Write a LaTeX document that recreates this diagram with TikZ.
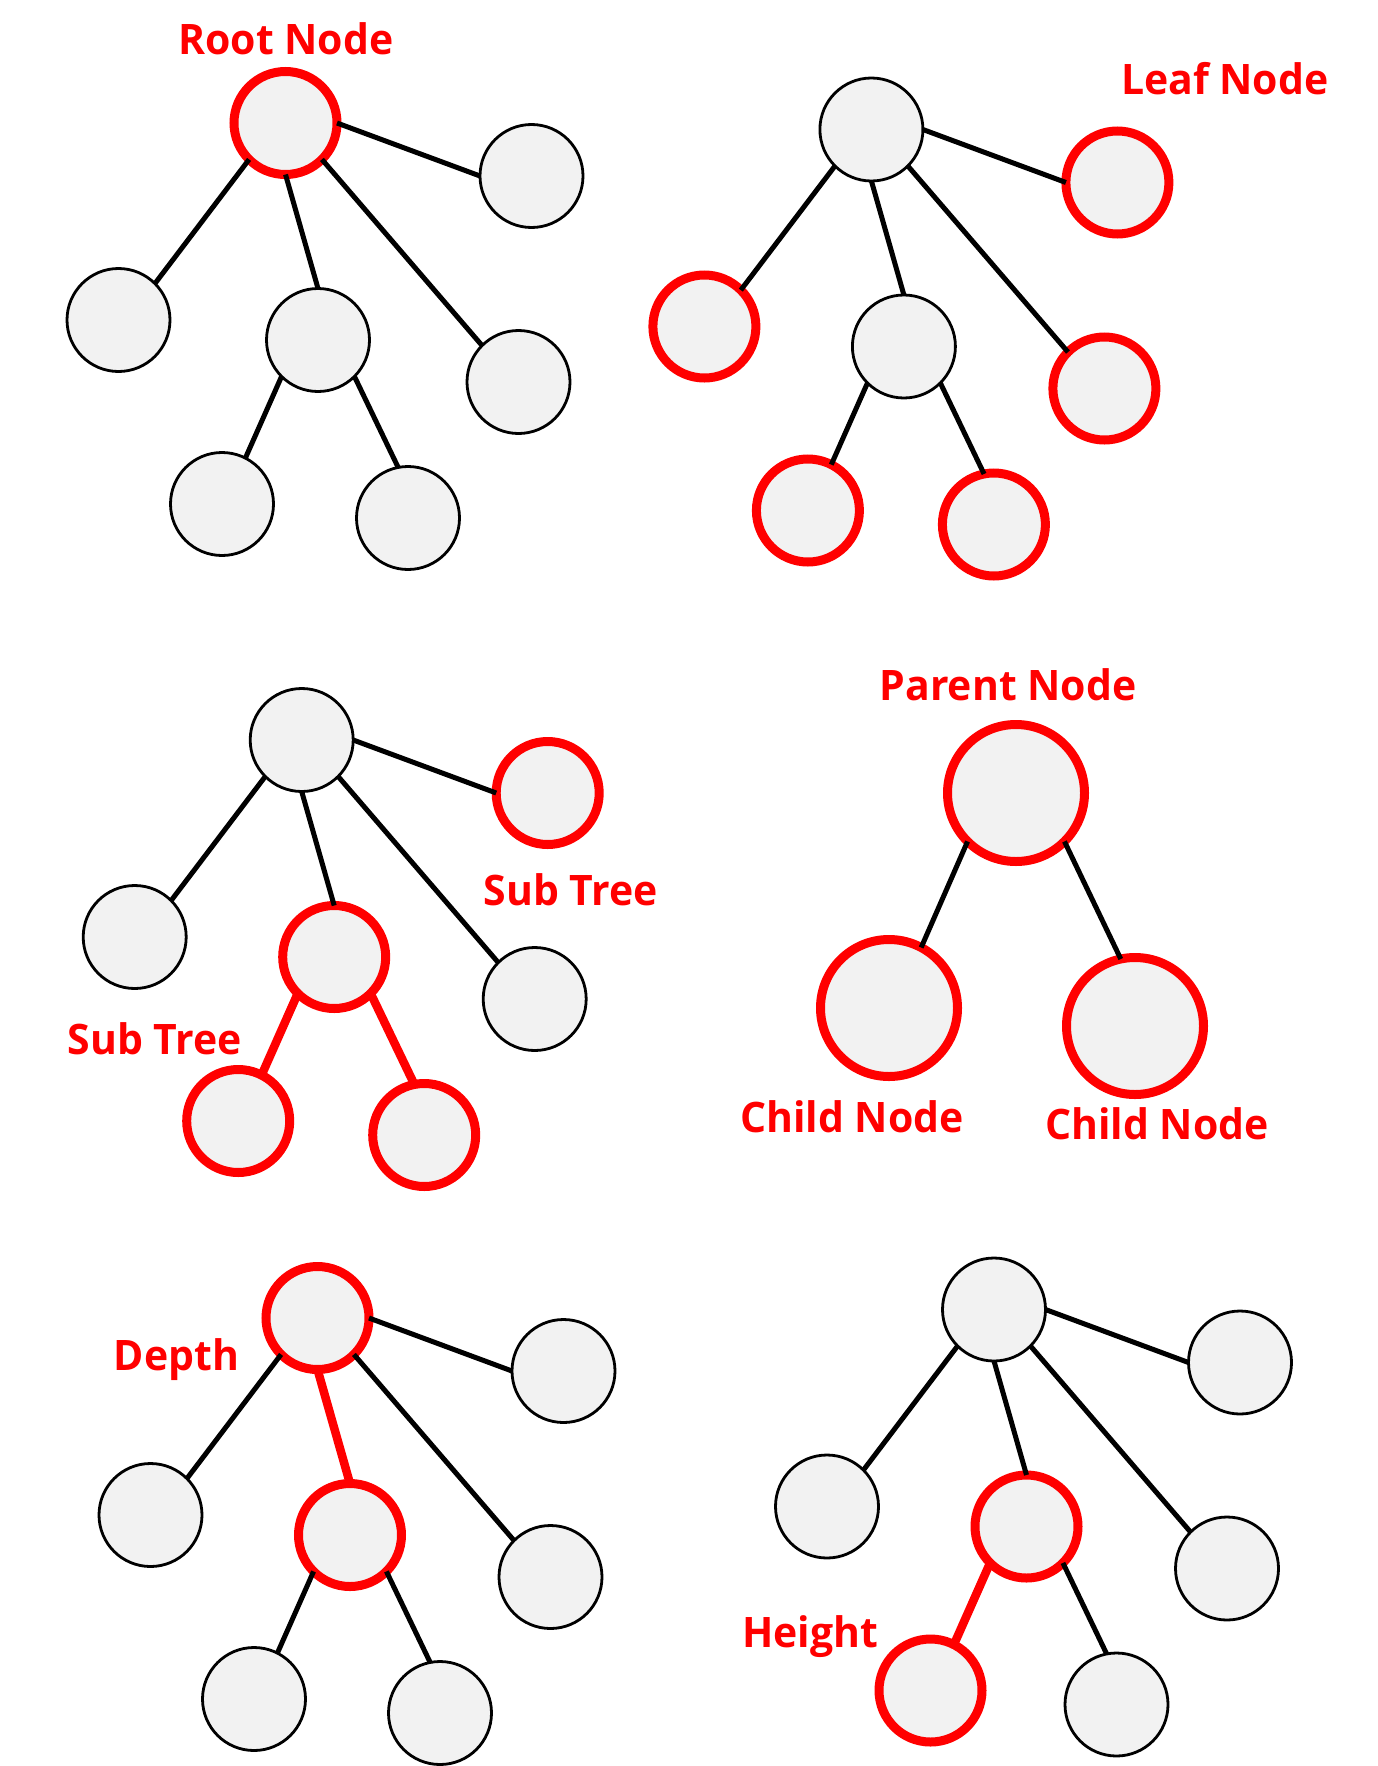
\documentclass[tikz,border=0pt]{standalone}
\usepackage{fontspec}
\setmainfont{Open Sans}[FakeStretch=0.975]
\definecolor{nodegray}{HTML}{F2F2F2}
\definecolor{hired}{HTML}{FF0000}
\tikzset{
  tn/.style={circle, draw=black, line width=2.8pt, fill=nodegray, minimum size=103pt, inner sep=0pt, outer sep=0pt},
  rn/.style={tn, draw=hired, line width=9pt},
  bignode/.style={minimum size=137pt},
  edgeline/.style={line width=5pt, draw=black},
  redgeline/.style={line width=8.5pt, draw=hired},
  lbl/.style={text=hired, font=\fontsize{42}{42}\selectfont\bfseries, anchor=base, inner sep=0pt}
}
\begin{document}
\begin{tikzpicture}[x=1pt,y=-1pt]
\fill[white] (0,0) rectangle (1378,1766);
\useasboundingbox (0,0) rectangle (1378,1766);

% Tree 1: Root Node
\begin{scope}[shift={(285.5,123)}]
  \node[rn] (a0) at (0,0) {};
  \node[tn] (a1) at (246,53) {};
  \node[tn] (a2) at (-167,197) {};
  \node[tn] (a3) at (32.5,217) {};
  \node[tn] (a4) at (233,259) {};
  \node[tn] (a5) at (-63.5,381) {};
  \node[tn] (a6) at (122.5,395) {};
  \draw[edgeline] (a0.east) -- (a1.west);
  \draw[edgeline] (a0.south west) -- (a2.north east);
  \draw[edgeline] (a0.south) -- (a3.north);
  \draw[edgeline] (a0.south east) -- (a4.north west);
  \draw[edgeline] (a3.south west) -- (a5.63);
  \draw[edgeline] (a3.south east) -- (a6.101);
\end{scope}
\node[lbl] (lroot) at (286,54.6) {Root Node};

% Tree 2: Leaf Node
\begin{scope}[shift={(871.4,129.5)}]
  \node[tn] (b0) at (0,0) {};
  \node[rn] (b1) at (246,53) {};
  \node[rn] (b2) at (-167,197) {};
  \node[tn] (b3) at (32.5,217) {};
  \node[rn] (b4) at (233,259) {};
  \node[rn] (b5) at (-63.5,381) {};
  \node[rn] (b6) at (122.5,395) {};
  \draw[edgeline] (b0.east) -- (b1.west);
  \draw[edgeline] (b0.south west) -- (b2.north east);
  \draw[edgeline] (b0.south) -- (b3.north);
  \draw[edgeline] (b0.south east) -- (b4.north west);
  \draw[edgeline] (b3.south west) -- (b5.63);
  \draw[edgeline] (b3.south east) -- (b6.101);
\end{scope}
\node[lbl] (lleaf) at (1224.8,95) {Leaf Node};

% Tree 3: Sub Tree
\begin{scope}[shift={(301.7,740)}]
  \node[tn] (c0) at (0,0) {};
  \node[rn] (c1) at (246,53) {};
  \node[tn] (c2) at (-167,197) {};
  \node[rn] (c3) at (32.5,217) {};
  \node[tn] (c4) at (233,259) {};
  \node[rn] (c5) at (-63.5,381) {};
  \node[rn] (c6) at (122.5,395) {};
  \draw[edgeline] (c0.east) -- (c1.west);
  \draw[edgeline] (c0.south west) -- (c2.north east);
  \draw[edgeline] (c0.south) -- (c3.north);
  \draw[edgeline] (c0.south east) -- (c4.north west);
  \draw[redgeline] (c3.south west) -- (c5.63);
  \draw[redgeline] (c3.south east) -- (c6.101);
\end{scope}
\node[lbl] (lsub1) at (570.8,905) {Sub Tree};
\node[lbl] (lsub2) at (154.8,1054) {Sub Tree};

% Tree 4: Parent / Child
\node[rn,bignode] (p0) at (1016,793) {};
\node[rn,bignode] (p1) at (889,1008) {};
\node[rn,bignode] (p2) at (1135,1026) {};
\draw[edgeline] (p0.south west) -- (p1.62);
\draw[edgeline] (p0.south east) -- (p2.102);
\node[lbl] (lparent) at (1008,700) {Parent Node};
\node[lbl] (lchild1) at (852,1132.5) {Child Node};
\node[lbl] (lchild2) at (1157,1139) {Child Node};

% Tree 5: Depth
\begin{scope}[shift={(317.5,1318)}]
  \node[rn] (d0) at (0,0) {};
  \node[tn] (d1) at (246,53) {};
  \node[tn] (d2) at (-167,197) {};
  \node[rn] (d3) at (32.5,217) {};
  \node[tn] (d4) at (233,259) {};
  \node[tn] (d5) at (-63.5,381) {};
  \node[tn] (d6) at (122.5,395) {};
  \draw[edgeline] (d0.east) -- (d1.west);
  \draw[edgeline] (d0.south west) -- (d2.north east);
  \draw[redgeline] (d0.south) -- (d3.north);
  \draw[edgeline] (d0.south east) -- (d4.north west);
  \draw[edgeline] (d3.south west) -- (d5.63);
  \draw[edgeline] (d3.south east) -- (d6.101);
\end{scope}
\node[lbl] (ldepth) at (176.5,1370.7) {Depth};

% Tree 6: Height
\begin{scope}[shift={(994,1309.5)}]
  \node[tn] (e0) at (0,0) {};
  \node[tn] (e1) at (246,53) {};
  \node[tn] (e2) at (-167,197) {};
  \node[rn] (e3) at (32.5,217) {};
  \node[tn] (e4) at (233,259) {};
  \node[rn] (e5) at (-63.5,381) {};
  \node[tn] (e6) at (122.5,395) {};
  \draw[edgeline] (e0.east) -- (e1.west);
  \draw[edgeline] (e0.south west) -- (e2.north east);
  \draw[edgeline] (e0.south) -- (e3.north);
  \draw[edgeline] (e0.south east) -- (e4.north west);
  \draw[redgeline] (e3.south west) -- (e5.63);
  \draw[edgeline] (e3.south east) -- (e6.101);
\end{scope}
\node[lbl] (lheight) at (810,1647.3) {Height};
\end{tikzpicture}
\end{document}
